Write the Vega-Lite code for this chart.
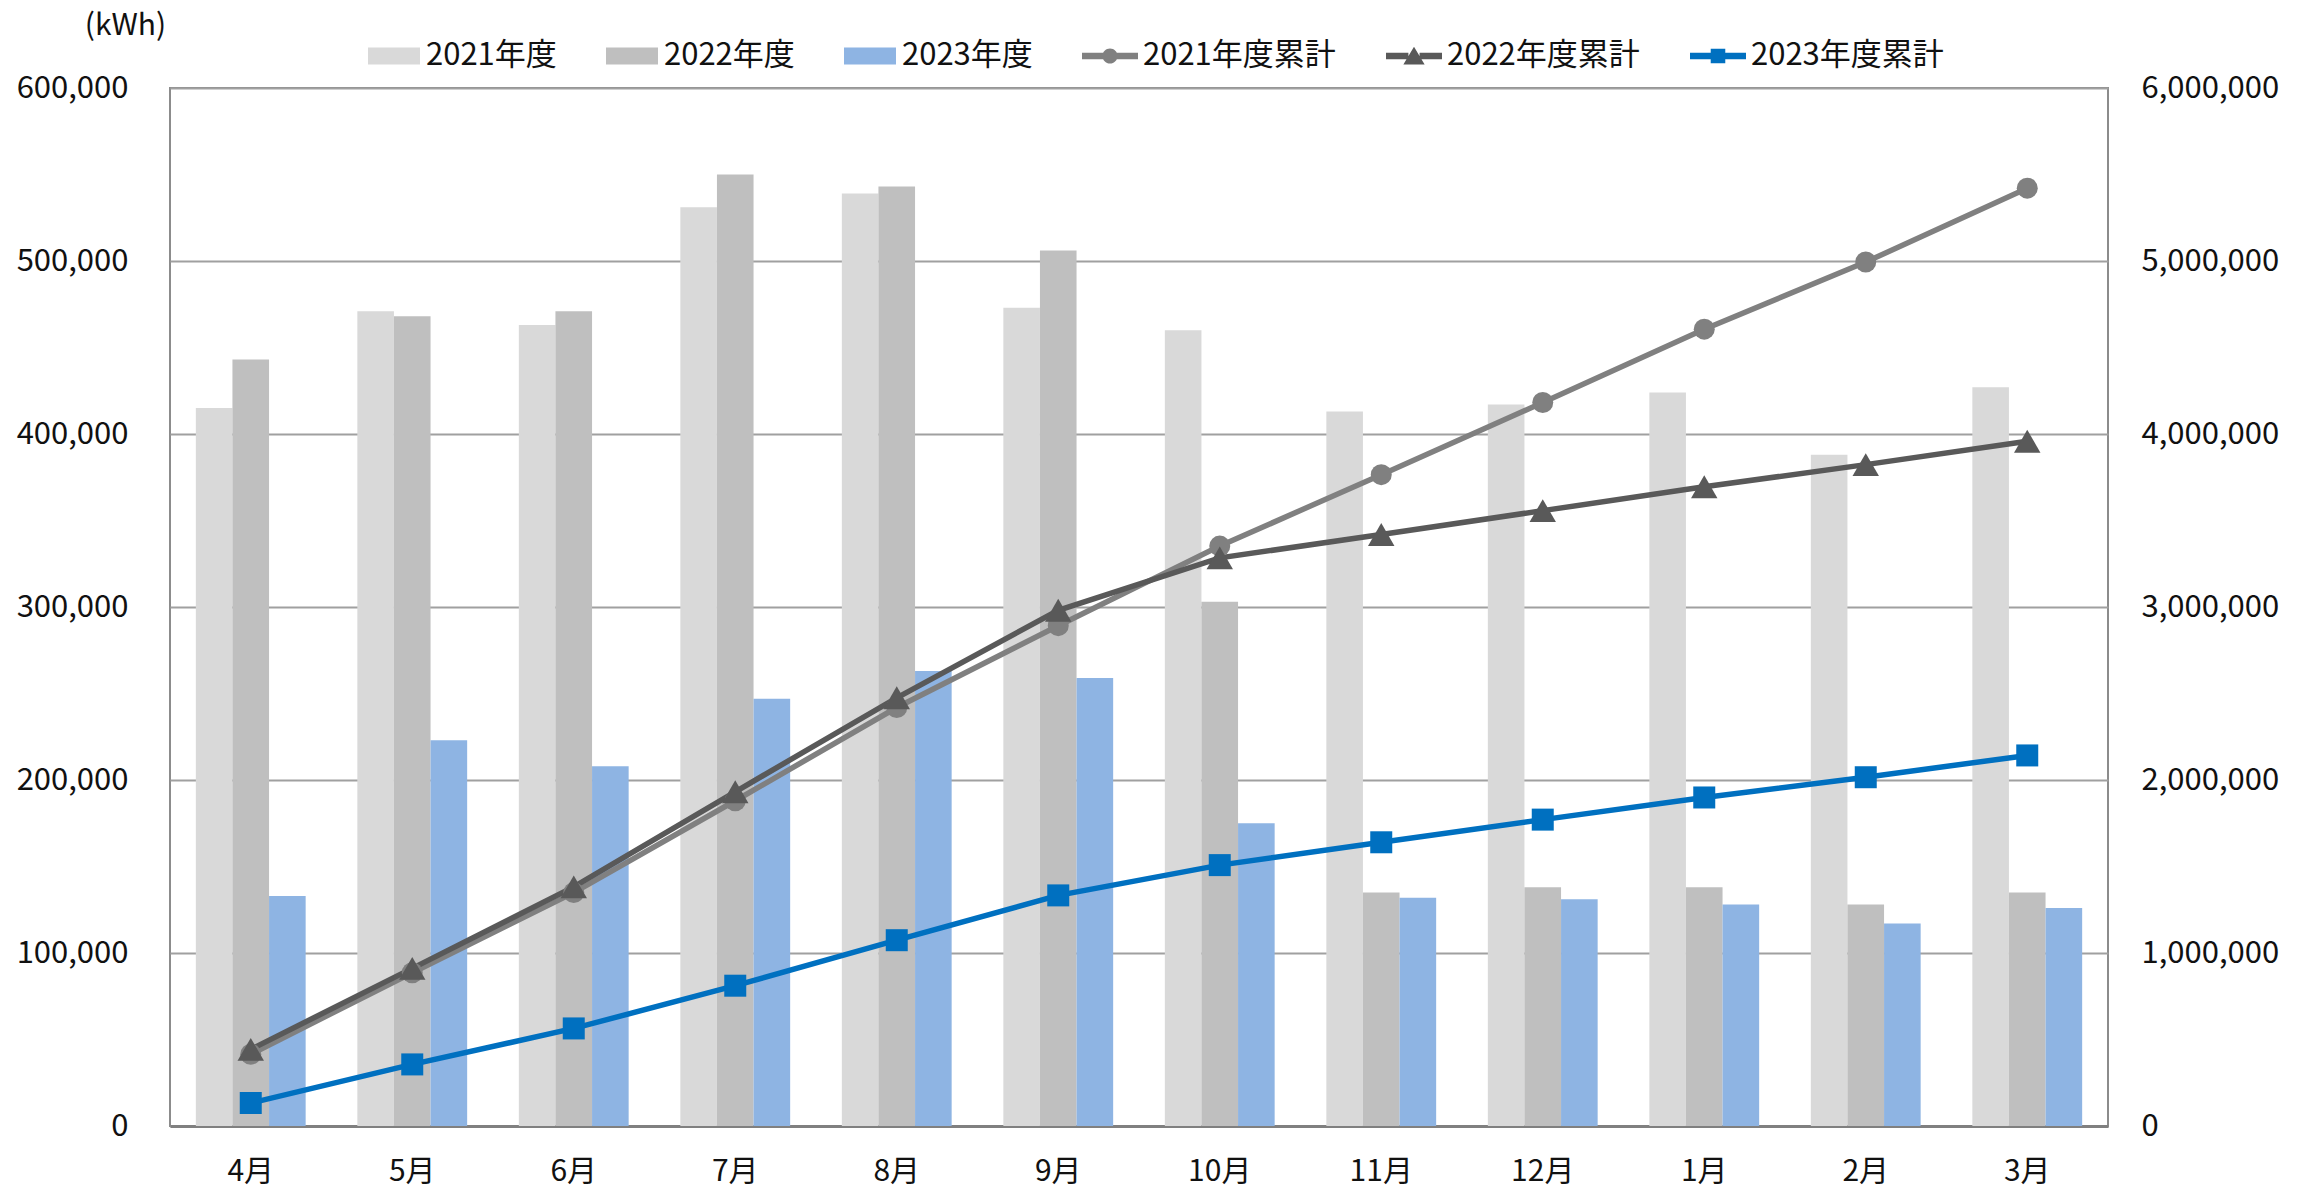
{
  "$schema": "https://vega.github.io/schema/vega-lite/v6.json",
  "width": 1938,
  "height": 1038,
  "autosize": {"type": "none"},
  "padding": {"left": 170, "top": 88, "right": 198, "bottom": 74},
  "background": "white",
  "config": {
    "font": "Noto Sans CJK JP",
    "view": {"stroke": "#8c8c8c", "strokeWidth": 2},
    "axis": {"labelColor": "#111111", "labelFontSize": 31, "ticks": false, "tickSize": 0, "domain": false, "grid": false, "title": null}
  },
  "datasets": {
    "bars": [
      {"month": "4月", "year": "2021年度", "kwh": 415000},
      {"month": "5月", "year": "2021年度", "kwh": 471000},
      {"month": "6月", "year": "2021年度", "kwh": 463000},
      {"month": "7月", "year": "2021年度", "kwh": 531000},
      {"month": "8月", "year": "2021年度", "kwh": 539000},
      {"month": "9月", "year": "2021年度", "kwh": 473000},
      {"month": "10月", "year": "2021年度", "kwh": 460000},
      {"month": "11月", "year": "2021年度", "kwh": 413000},
      {"month": "12月", "year": "2021年度", "kwh": 417000},
      {"month": "1月", "year": "2021年度", "kwh": 424000},
      {"month": "2月", "year": "2021年度", "kwh": 388000},
      {"month": "3月", "year": "2021年度", "kwh": 427000},
      {"month": "4月", "year": "2022年度", "kwh": 443000},
      {"month": "5月", "year": "2022年度", "kwh": 468000},
      {"month": "6月", "year": "2022年度", "kwh": 471000},
      {"month": "7月", "year": "2022年度", "kwh": 550000},
      {"month": "8月", "year": "2022年度", "kwh": 543000},
      {"month": "9月", "year": "2022年度", "kwh": 506000},
      {"month": "10月", "year": "2022年度", "kwh": 303000},
      {"month": "11月", "year": "2022年度", "kwh": 135000},
      {"month": "12月", "year": "2022年度", "kwh": 138000},
      {"month": "1月", "year": "2022年度", "kwh": 138000},
      {"month": "2月", "year": "2022年度", "kwh": 128000},
      {"month": "3月", "year": "2022年度", "kwh": 135000},
      {"month": "4月", "year": "2023年度", "kwh": 133000},
      {"month": "5月", "year": "2023年度", "kwh": 223000},
      {"month": "6月", "year": "2023年度", "kwh": 208000},
      {"month": "7月", "year": "2023年度", "kwh": 247000},
      {"month": "8月", "year": "2023年度", "kwh": 263000},
      {"month": "9月", "year": "2023年度", "kwh": 259000},
      {"month": "10月", "year": "2023年度", "kwh": 175000},
      {"month": "11月", "year": "2023年度", "kwh": 132000},
      {"month": "12月", "year": "2023年度", "kwh": 131000},
      {"month": "1月", "year": "2023年度", "kwh": 128000},
      {"month": "2月", "year": "2023年度", "kwh": 117000},
      {"month": "3月", "year": "2023年度", "kwh": 126000}
    ],
    "cum": [
      {"month": "4月", "series": "2021年度累計", "cum": 415000},
      {"month": "5月", "series": "2021年度累計", "cum": 886000},
      {"month": "6月", "series": "2021年度累計", "cum": 1349000},
      {"month": "7月", "series": "2021年度累計", "cum": 1880000},
      {"month": "8月", "series": "2021年度累計", "cum": 2419000},
      {"month": "9月", "series": "2021年度累計", "cum": 2892000},
      {"month": "10月", "series": "2021年度累計", "cum": 3352000},
      {"month": "11月", "series": "2021年度累計", "cum": 3765000},
      {"month": "12月", "series": "2021年度累計", "cum": 4182000},
      {"month": "1月", "series": "2021年度累計", "cum": 4606000},
      {"month": "2月", "series": "2021年度累計", "cum": 4994000},
      {"month": "3月", "series": "2021年度累計", "cum": 5421000},
      {"month": "4月", "series": "2022年度累計", "cum": 443000},
      {"month": "5月", "series": "2022年度累計", "cum": 911000},
      {"month": "6月", "series": "2022年度累計", "cum": 1382000},
      {"month": "7月", "series": "2022年度累計", "cum": 1932000},
      {"month": "8月", "series": "2022年度累計", "cum": 2475000},
      {"month": "9月", "series": "2022年度累計", "cum": 2981000},
      {"month": "10月", "series": "2022年度累計", "cum": 3284000},
      {"month": "11月", "series": "2022年度累計", "cum": 3419000},
      {"month": "12月", "series": "2022年度累計", "cum": 3557000},
      {"month": "1月", "series": "2022年度累計", "cum": 3695000},
      {"month": "2月", "series": "2022年度累計", "cum": 3823000},
      {"month": "3月", "series": "2022年度累計", "cum": 3958000},
      {"month": "4月", "series": "2023年度累計", "cum": 133000},
      {"month": "5月", "series": "2023年度累計", "cum": 356000},
      {"month": "6月", "series": "2023年度累計", "cum": 564000},
      {"month": "7月", "series": "2023年度累計", "cum": 811000},
      {"month": "8月", "series": "2023年度累計", "cum": 1074000},
      {"month": "9月", "series": "2023年度累計", "cum": 1333000},
      {"month": "10月", "series": "2023年度累計", "cum": 1508000},
      {"month": "11月", "series": "2023年度累計", "cum": 1640000},
      {"month": "12月", "series": "2023年度累計", "cum": 1771000},
      {"month": "1月", "series": "2023年度累計", "cum": 1899000},
      {"month": "2月", "series": "2023年度累計", "cum": 2016000},
      {"month": "3月", "series": "2023年度累計", "cum": 2142000}
    ]
  },
  "layer": [
    {
      "data": {"name": "bars"},
      "mark": {"type": "bar"},
      "encoding": {
        "x": {
          "field": "month", "type": "nominal",
          "scale": {"domain": ["4月","5月","6月","7月","8月","9月","10月","11月","12月","1月","2月","3月"], "paddingInner": 0.32, "paddingOuter": 0.16},
          "axis": {"labelAngle": 0, "labelFontSize": 30, "labelPadding": 30, "domain": true, "domainColor": "#808080", "domainWidth": 3}
        },
        "xOffset": {"field": "year", "type": "nominal", "scale": {"domain": ["2021年度","2022年度","2023年度"], "paddingInner": 0, "paddingOuter": 0}},
        "y": {
          "field": "kwh", "type": "quantitative",
          "scale": {"domain": [0, 600000], "nice": false, "zero": true},
          "axis": {
            "orient": "left", "values": [0,100000,200000,300000,400000,500000,600000], "format": ",d",
            "labelPadding": 42, "grid": true, "gridColor": "#a0a0a0", "gridWidth": 2,
            "title": "(kWh)", "titleAngle": 0, "titleX": -45, "titleY": -63, "titleAlign": "center", "titleBaseline": "middle",
            "titleFontSize": 30, "titleFontWeight": "normal", "titleColor": "#111111"
          }
        },
        "fill": {
          "field": "year", "type": "nominal",
          "scale": {"domain": ["2021年度","2022年度","2023年度"], "range": ["#d9d9d9","#bfbfbf","#8eb4e3"]},
          "legend": {
            "orient": "none", "legendX": 198, "legendY": -58, "direction": "horizontal", "title": null,
            "symbolType": "M-1,-0.327H1V0.327H-1Z", "symbolSize": 2704, "symbolStrokeWidth": 0, "symbolOffset": 0,
            "labelFontSize": 31, "labelColor": "#111111", "labelOffset": 6, "labelLimit": 0, "columnPadding": 49, "padding": 0
          }
        }
      }
    },
    {
      "data": {"name": "cum"},
      "encoding": {
        "x": {"field": "month", "type": "nominal", "scale": {"domain": ["4月","5月","6月","7月","8月","9月","10月","11月","12月","1月","2月","3月"], "paddingInner": 0.32, "paddingOuter": 0.16}},
        "y": {
          "field": "cum", "type": "quantitative",
          "scale": {"domain": [0, 6000000], "nice": false, "zero": true},
          "axis": {"orient": "right", "values": [0,1000000,2000000,3000000,4000000,5000000,6000000], "format": ",d", "labelPadding": 33, "grid": false}
        },
        "color": {
          "field": "series", "type": "nominal",
          "scale": {"domain": ["2021年度累計","2022年度累計","2023年度累計"], "range": ["#808080","#595959","#0070c0"]},
          "legend": {
            "orient": "none", "legendX": 912, "legendY": -60, "direction": "horizontal", "title": null,
            "symbolType": "M-1,-0.12H-0.2V0.12H-1Z M0.2,-0.12H1V0.12H0.2Z M-0.27,0A0.27,0.27 0 1,1 0.27,0A0.27,0.27 0 1,1 -0.27,0Z",
            "symbolSize": 3136, "symbolStrokeWidth": 0, "symbolOffset": 0,
            "labelFontSize": 31, "labelColor": "#111111", "labelOffset": 5, "labelLimit": 0, "columnPadding": 50, "padding": 0,
            "encode": {
              "symbols": {
                "update": {
                  "shape": {"signal": "datum.value === '2021年度累計' ? 'M-1,-0.12H-0.2V0.12H-1Z M0.2,-0.12H1V0.12H0.2Z M-0.27,0A0.27,0.27 0 1,1 0.27,0A0.27,0.27 0 1,1 -0.27,0Z' : datum.value === '2022年度累計' ? 'M-1,-0.12H-0.2V0.12H-1Z M0.2,-0.12H1V0.12H0.2Z M0,-0.33L0.38,0.3H-0.38Z' : 'M-1,-0.12H-0.2V0.12H-1Z M0.2,-0.12H1V0.12H0.2Z M-0.26,-0.26H0.26V0.26H-0.26Z'"},
                  "fill": {"signal": "datum.value === '2021年度累計' ? '#808080' : datum.value === '2022年度累計' ? '#595959' : '#0070c0'"},
                  "stroke": {"value": "transparent"},
                  "strokeWidth": {"value": 0},
                  "opacity": {"value": 1}
                }
              }
            }
          }
        }
      },
      "layer": [
        {"mark": {"type": "line", "strokeWidth": 5.5}},
        {
          "transform": [{"filter": "datum.series === '2021年度累計'"}],
          "mark": {"type": "point", "filled": true, "opacity": 1, "shape": "circle", "size": 441}
        },
        {
          "transform": [{"filter": "datum.series === '2022年度累計'"}],
          "mark": {"type": "point", "filled": true, "opacity": 1, "shape": "triangle-up", "size": 700}
        },
        {
          "transform": [{"filter": "datum.series === '2023年度累計'"}],
          "mark": {"type": "point", "filled": true, "opacity": 1, "shape": "square", "size": 484}
        }
      ]
    }
  ],
  "resolve": {"scale": {"y": "independent"}}
}
